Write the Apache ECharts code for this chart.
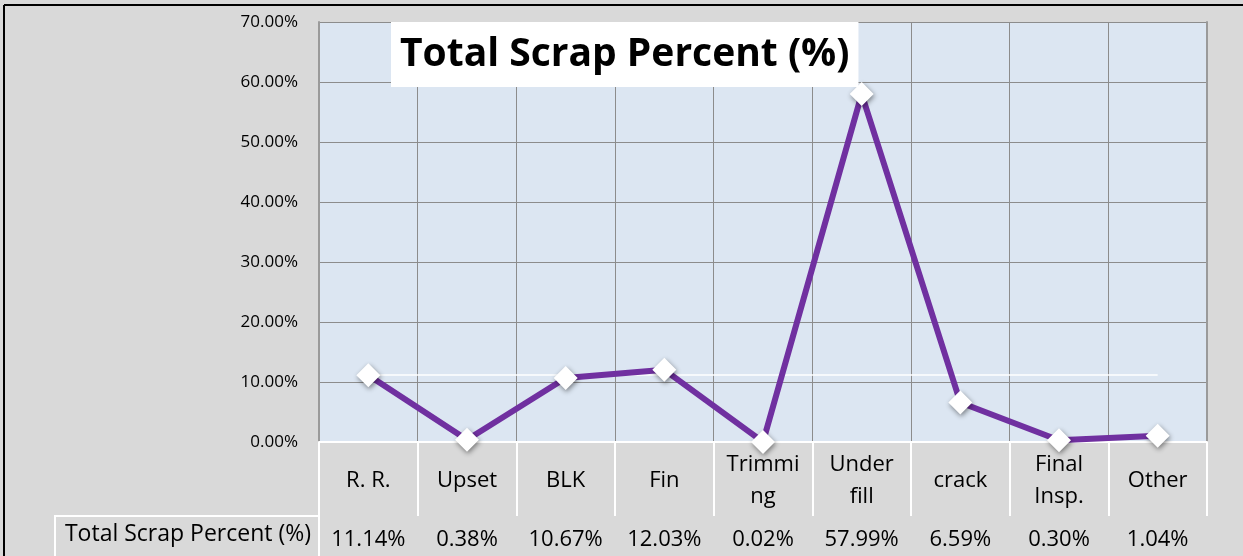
<!DOCTYPE html>
<html>
<head>
<meta charset="utf-8">
<script src="https://cdn.jsdelivr.net/npm/echarts@6/dist/echarts.min.js"></script>
<style>
  html, body { margin: 0; padding: 0; background: #d9d9d9; }
  #chart { width: 1243px; height: 556px; }
</style>
</head>
<body>
<div id="chart"></div>
<script>
  // data
  const categories = ['R. R.', 'Upset', 'BLK', 'Fin', 'Trimmi\nng', 'Under\nfill', 'crack', 'Final\nInsp.', 'Other']
  const scrapPercent = [11.14, 0.38, 10.67, 12.03, 0.02, 57.99, 6.59, 0.30, 1.04]
  const seriesName = 'Total Scrap Percent (%)'
  const yMin = 0
  const yMax = 70
  const yStep = 10

  const fmt = v => v.toFixed(2) + '%'
  const font = '"Open Sans", sans-serif'

  const chart = echarts.init(document.getElementById('chart'))
  chart.setOption({
    backgroundColor: '#d9d9d9',
    textStyle: { fontFamily: font },
    animation: false,
    title: {
      text: seriesName,
      left: 391,
      top: 22,
      backgroundColor: '#ffffff',
      padding: [13, 9, 13, 9],
      textStyle: { fontFamily: font, fontSize: 39, fontWeight: 'bold', color: '#000' }
    },
    grid: {
      left: 319,
      right: 36,
      top: 22,
      bottom: 114,
      show: true,
      backgroundColor: '#dce6f2',
      borderWidth: 0
    },
    xAxis: [{
      type: 'category',
      data: categories,
      boundaryGap: true,
      axisLine: { show: false },
      axisTick: { show: true, interval: 0, length: 74, lineStyle: { color: '#ffffff', width: 2 } },
      splitLine: { show: true, interval: 0, lineStyle: { color: '#8c8c8c', width: 1 } },
      axisLabel: {
        interval: 0,
        margin: 39,
        verticalAlign: 'middle',
        lineHeight: 32,
        fontSize: 22,
        color: '#000'
      }
    }, {
      type: 'category',
      position: 'bottom',
      offset: 74,
      data: scrapPercent.map(fmt),
      boundaryGap: true,
      axisLine: { show: true, lineStyle: { color: '#ffffff', width: 2 } },
      axisTick: { show: true, interval: 0, length: 40, lineStyle: { color: '#ffffff', width: 2 } },
      axisLabel: {
        interval: 0,
        margin: 24,
        verticalAlign: 'middle',
        fontSize: 22,
        color: '#000'
      }
    }],
    yAxis: [{
      type: 'value',
      min: yMin,
      max: yMax,
      interval: yStep,
      axisLine: { show: true, lineStyle: { color: '#9a9a9a', width: 2 } },
      axisTick: { show: false },
      splitLine: { lineStyle: { color: '#8c8c8c', width: 1 } },
      axisLabel: { formatter: fmt, margin: 21, fontSize: 17, color: '#000' }
    }, {
      type: 'value',
      position: 'right',
      min: yMin,
      max: yMax,
      interval: yStep,
      axisLine: { show: true, lineStyle: { color: '#9a9a9a', width: 2 } },
      axisTick: { show: false },
      splitLine: { show: false },
      axisLabel: { show: false }
    }],
    series: [{
      name: seriesName,
      type: 'line',
      data: scrapPercent,
      symbol: 'diamond',
      symbolSize: 24,
      lineStyle: { color: '#7030a0', width: 6 },
      itemStyle: {
        color: '#ffffff',
        borderWidth: 0,
        shadowBlur: 5,
        shadowColor: 'rgba(0,0,0,0.45)',
        shadowOffsetX: 1,
        shadowOffsetY: 2
      },
      markLine: {
        silent: true,
        symbol: 'none',
        label: { show: false },
        lineStyle: { color: '#ffffff', width: 1.5, type: 'solid' },
        data: [[
          { coord: [categories[0], scrapPercent[0]] },
          { coord: [categories[categories.length - 1], scrapPercent[0]] }
        ]]
      },
      z: 5
    }],
    graphic: [
      // label cell of the data table
      { type: 'rect', shape: { x: 55, y: 516, width: 264, height: 60 }, style: { fill: 'none', stroke: '#ffffff', lineWidth: 2 } },
      { type: 'text', right: 1243 - 311, top: 523, style: { text: seriesName, font: '23px ' + font, fill: '#000' } },
      // outer black frame (top and left)
      { type: 'line', shape: { x1: 4, y1: 5, x2: 1243, y2: 5 }, style: { stroke: '#000', lineWidth: 2 } },
      { type: 'line', shape: { x1: 4, y1: 5, x2: 4, y2: 556 }, style: { stroke: '#000', lineWidth: 2 } }
    ]
  })
</script>
</body>
</html>
